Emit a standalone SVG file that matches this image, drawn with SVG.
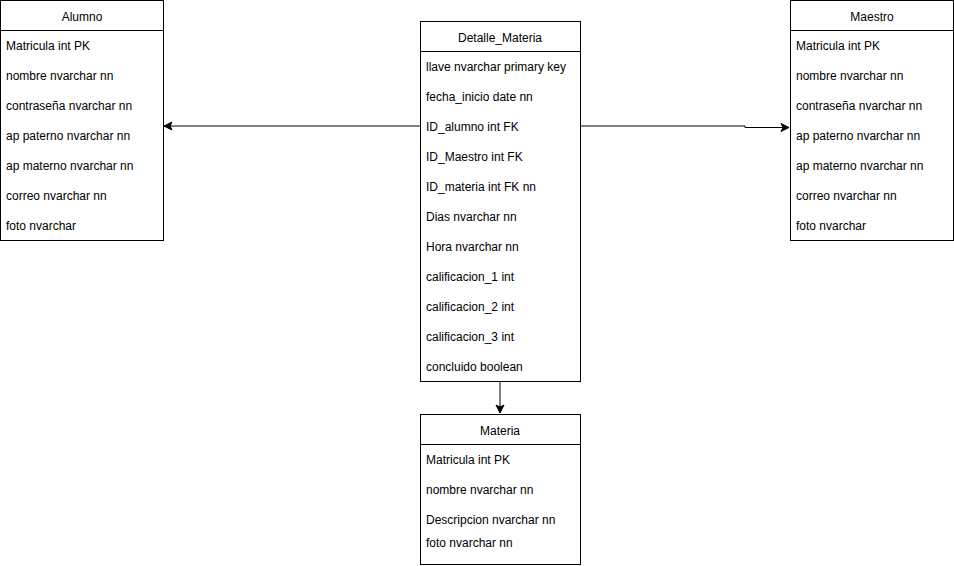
<svg xmlns="http://www.w3.org/2000/svg" width="954" height="566" viewBox="0 0 954 566">
<defs>
<style>
.box{fill:#fff;stroke:#000;stroke-width:1}
.hd{font-family:"Liberation Sans",Arial,sans-serif;font-size:12px;fill:#000;text-anchor:middle;dominant-baseline:central}
.tx{font-family:"Liberation Sans",Arial,sans-serif;font-size:12px;fill:#000;dominant-baseline:central}
.ln{fill:none;stroke:#000;stroke-width:1}
</style>
<marker id="arr" markerUnits="userSpaceOnUse" markerWidth="12" markerHeight="12" viewBox="0 0 12 12" refX="10" refY="6" orient="auto">
<path d="M2,2 L10,6 L2,10 L4,6 Z" fill="#000" stroke="#000" stroke-width="1"/>
</marker>
</defs>
<rect width="954" height="566" fill="#fff"/>
<g id="connectors">
<path class="ln" d="M420,126 L164,126" marker-end="url(#arr)"/>
<path class="ln" d="M580,126 L745,126 L745,127.5 L789,127.5" marker-end="url(#arr)"/>
<path class="ln" d="M500,381 L500,413" marker-end="url(#arr)"/>
</g>
<g id="alumno">
<rect class="box" x="0.5" y="0.5" width="163" height="240"/>
<line class="ln" x1="0.5" y1="30.5" x2="163.5" y2="30.5"/>
<text class="hd" x="82" y="16.5">Alumno</text>
<text class="tx" x="6" y="46">Matricula int PK</text>
<text class="tx" x="6" y="76">nombre nvarchar nn</text>
<text class="tx" x="6" y="106">contraseña nvarchar nn</text>
<text class="tx" x="6" y="136">ap paterno nvarchar nn</text>
<text class="tx" x="6" y="166">ap materno nvarchar nn</text>
<text class="tx" x="6" y="196">correo nvarchar nn</text>
<text class="tx" x="6" y="226">foto nvarchar</text>
</g>
<g id="detalle_materia">
<rect class="box" x="420.5" y="21.5" width="160" height="360"/>
<line class="ln" x1="420.5" y1="51.5" x2="580.5" y2="51.5"/>
<text class="hd" x="500" y="37.5">Detalle_Materia</text>
<text class="tx" x="426" y="67">llave nvarchar primary key</text>
<text class="tx" x="426" y="97">fecha_inicio date nn</text>
<text class="tx" x="426" y="127">ID_alumno int FK</text>
<text class="tx" x="426" y="157">ID_Maestro int FK</text>
<text class="tx" x="426" y="187">ID_materia int FK nn</text>
<text class="tx" x="426" y="217">Dias nvarchar nn</text>
<text class="tx" x="426" y="247">Hora nvarchar nn</text>
<text class="tx" x="426" y="277">calificacion_1 int</text>
<text class="tx" x="426" y="307">calificacion_2 int</text>
<text class="tx" x="426" y="337">calificacion_3 int</text>
<text class="tx" x="426" y="367">concluido boolean</text>
</g>
<g id="maestro">
<rect class="box" x="790.5" y="0.5" width="163" height="240"/>
<line class="ln" x1="790.5" y1="30.5" x2="953.5" y2="30.5"/>
<text class="hd" x="872" y="16.5">Maestro</text>
<text class="tx" x="796" y="46">Matricula int PK</text>
<text class="tx" x="796" y="76">nombre nvarchar nn</text>
<text class="tx" x="796" y="106">contraseña nvarchar nn</text>
<text class="tx" x="796" y="136">ap paterno nvarchar nn</text>
<text class="tx" x="796" y="166">ap materno nvarchar nn</text>
<text class="tx" x="796" y="196">correo nvarchar nn</text>
<text class="tx" x="796" y="226">foto nvarchar</text>
</g>
<g id="materia">
<rect class="box" x="420.5" y="414.5" width="160" height="150"/>
<line class="ln" x1="420.5" y1="444.5" x2="580.5" y2="444.5"/>
<text class="hd" x="500" y="430.5">Materia</text>
<text class="tx" x="426" y="460">Matricula int PK</text>
<text class="tx" x="426" y="490">nombre nvarchar nn</text>
<text class="tx" x="426" y="520">Descripcion nvarchar nn</text>
<text class="tx" x="426" y="543">foto nvarchar nn</text>
</g>
</svg>
